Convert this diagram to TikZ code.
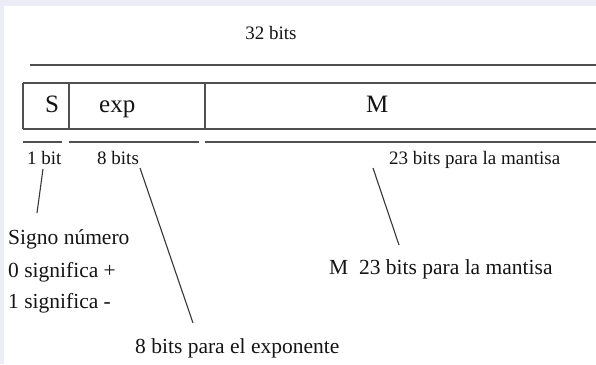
\documentclass[tikz,border=0pt]{standalone}
\usepackage{fontspec}
\setmainfont{Liberation Serif}
\definecolor{framebg}{RGB}{236,236,246}
\definecolor{rulec}{RGB}{80,80,80}
\definecolor{ink}{RGB}{20,20,20}
\begin{document}
\begin{tikzpicture}[x=1pt,y=1pt,
  rulel/.style={draw=rulec,line width=1.6pt},
  pointer/.style={draw=ink!85,line width=1.1pt},
  big/.style={font=\fontsize{25}{28}\selectfont,text=ink,inner sep=0pt,anchor=base west},
  lbl/.style={font=\fontsize{19}{22}\selectfont,text=ink,inner sep=0pt,anchor=base west},
  note/.style={font=\fontsize{21.5}{24}\selectfont,text=ink,inner sep=0pt,anchor=base west}]
\fill[framebg] (0,0) rectangle (596,364);
\fill[white] (4,0) rectangle (596,358);
\useasboundingbox (0,0) rectangle (596,364);
% top rule
\draw[rulel] (30,299) -- (596,299);
% register box
\draw[rulel] (23,281) -- (596,281);
\draw[rulel] (23,235) -- (596,235);
\draw[rulel] (23,281) -- (23,235);
\draw[rulel] (69,281) -- (69,235);
\draw[rulel] (205,281) -- (205,235);
% lower rules
\draw[rulel] (23,222) -- (62,222);
\draw[rulel] (69,222) -- (199,222);
\draw[rulel] (205,222) -- (596,222);
% texts
\node[lbl,anchor=base] (tot) at (271,324) {32 bits};
\node[big] (s) at (45,251) {S};
\node[big] (e) at (99,251) {exp};
\node[big] (m) at (366,251) {M};
\node[lbl] (b1) at (27,199) {1 bit};
\node[lbl] (b8) at (97,199) {8 bits};
\node[lbl] (b23) at (389,199) {23 bits para la mantisa};
\node[note] (sg1) at (8,119) {Signo número};
\node[note] (sg2) at (8,87) {0 significa +};
\node[note] (sg3) at (8,56) {1 significa -};
\node[note] (mn) at (329,89) {M\ \ 23 bits para la mantisa};
\node[note] (ex) at (135,11) {8 bits para el exponente};
% pointers
\coordinate (p1a) at (43,195);
\coordinate (p1b) at (37,151);
\coordinate (p2a) at (140,196);
\coordinate (p2b) at (193,41);
\coordinate (p3a) at (373,196);
\coordinate (p3b) at (399,119);
\draw[pointer] (p1a) -- (p1b);
\draw[pointer] (p2a) -- (p2b);
\draw[pointer] (p3a) -- (p3b);
\end{tikzpicture}
\end{document}
